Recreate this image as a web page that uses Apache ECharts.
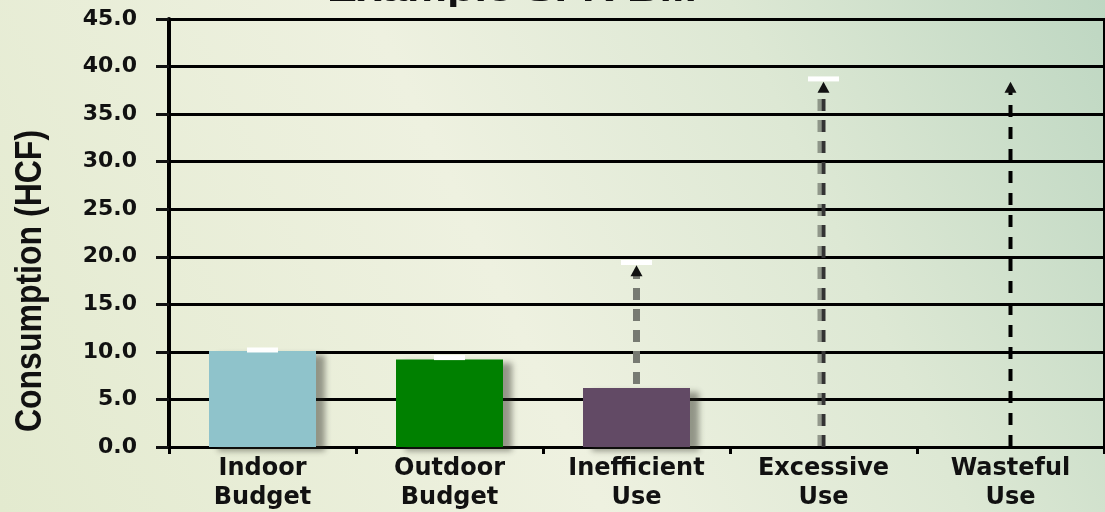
<!DOCTYPE html>
<html>
<head>
<meta charset="utf-8">
<script src="https://cdn.jsdelivr.net/npm/echarts@6/dist/echarts.min.js"></script>
<style>
  html, body { margin: 0; padding: 0; }
  #chart { width: 1105px; height: 512px; }
</style>
</head>
<body>
<div id="chart"></div>
<script>
/// data

const categories = ['Indoor\nBudget', 'Outdoor\nBudget', 'Inefficient\nUse', 'Excessive\nUse', 'Wasteful\nUse'];
const consumption = [10.1, 9.2, 6.2, 0, 0];
const barColors = ['#8fc3cb', '#008000', '#624a65', '#624a65', '#624a65'];
// white markers above each column
const capValues = [10.2, 9.4, 19.4, 38.7, null];
// dashed arrows: category index, from, to
const arrowCats = [2, 3, 4];
const arrowFrom = [0, 0, 0];
const arrowTo = [19.1, 38.4, 38.4];
const yMin = 0, yMax = 45, yStep = 5;
const titleText = 'Example SFR Bill';
const yName = 'Consumption (HCF)';


/// styles

const arrowStyles = [
  { color: '#777a72', width: 7, dash: [12, 9], shadow: 0 },
  { color: '#333333', width: 4, dash: [12, 9], shadow: -4 },
  { color: '#000000', width: 4, dash: [12, 10], shadow: 0 }
];

function renderArrow(params, api) {
  const i = api.value(0);
  const base = api.coord([i, api.value(1)]);
  const tip = api.coord([i, api.value(2)]);
  const s = arrowStyles[params.dataIndex];
  return {
    type: 'group',
    children: [
      {
        type: 'line',
        shape: { x1: base[0], y1: base[1], x2: tip[0], y2: tip[1] + 9 },
        style: {
          stroke: s.color, lineWidth: s.width, lineDash: s.dash,
          shadowColor: 'rgba(0,0,0,0.35)', shadowOffsetX: s.shadow, shadowBlur: 0
        }
      },
      {
        type: 'polygon',
        shape: { points: [[tip[0], tip[1]], [tip[0] - 6, tip[1] + 11], [tip[0] + 6, tip[1] + 11]] },
        style: { fill: '#111' }
      }
    ]
  };
}


/// chart

const chart = echarts.init(document.getElementById('chart'));

chart.setOption({
  animation: false,
  backgroundColor: 'transparent',
  graphic: [
    {
      type: 'rect', z: -100, silent: true,
      shape: { x: 0, y: 0, width: 1105, height: 512 },
      style: {
        fill: new echarts.graphic.LinearGradient(0, 1, 1, 0, [
          { offset: 0, color: '#e3eacf' },
          { offset: 0.45, color: '#eef1e0' },
          { offset: 0.72, color: '#dde8d4' },
          { offset: 1, color: '#bed7c2' }
        ])
      }
    },
    {
      type: 'text', z: 100, x: 512, y: -22, scaleX: 1.5,
      style: {
        text: titleText, font: 'bold 30px "Liberation Sans", Arial',
        fill: '#111', textAlign: 'center', textVerticalAlign: 'top'
      }
    },
    {
      type: 'text', z: 100, x: 31, y: 281, rotation: Math.PI / 2, scaleY: 1.15,
      style: {
        text: yName, font: 'bold 32px "Liberation Sans", Arial',
        fill: '#111', textAlign: 'center', textVerticalAlign: 'middle'
      }
    }
  ],
  grid: { left: 169, right: 1, top: 19, bottom: 64, show: true, borderColor: '#000', borderWidth: 2 },
  xAxis: {
    type: 'category',
    data: categories,
    axisLine: { lineStyle: { color: '#000', width: 3 } },
    axisTick: { show: true, length: 7, lineStyle: { color: '#000', width: 3 } },
    axisLabel: {
      margin: 7, color: '#111', fontFamily: 'DejaVu Sans', fontWeight: 'bold',
      fontSize: 24, lineHeight: 29
    }
  },
  yAxis: {
    type: 'value',
    min: yMin, max: yMax, interval: yStep,
    axisLine: { show: true, lineStyle: { color: '#000', width: 4 } },
    axisTick: { show: true, length: 13, lineStyle: { color: '#111', width: 3 } },
    splitLine: { lineStyle: { color: '#000', width: 3 } },
    axisLabel: {
      margin: 32, color: '#111', fontFamily: 'DejaVu Sans', fontWeight: 'bold', fontSize: 22,
      formatter: v => v.toFixed(1)
    }
  },
  series: [
    {
      type: 'custom',
      z: 2,
      renderItem: renderArrow,
      data: arrowCats.map((c, k) => [c, arrowFrom[k], arrowTo[k]])
    },
    {
      type: 'bar',
      z: 3,
      barWidth: 107,
      data: consumption.map((v, k) => ({
        value: v,
        itemStyle: {
          color: barColors[k],
          shadowColor: 'rgba(40,40,30,0.45)', shadowBlur: 6, shadowOffsetX: 9, shadowOffsetY: 4
        }
      }))
    },
    {
      type: 'scatter',
      z: 4,
      symbol: 'rect',
      symbolSize: [31, 5],
      itemStyle: { color: '#ffffff', opacity: 1 },
      data: capValues.map((v, k) => [k, v])
    }
  ]
});
</script>
</body>
</html>
